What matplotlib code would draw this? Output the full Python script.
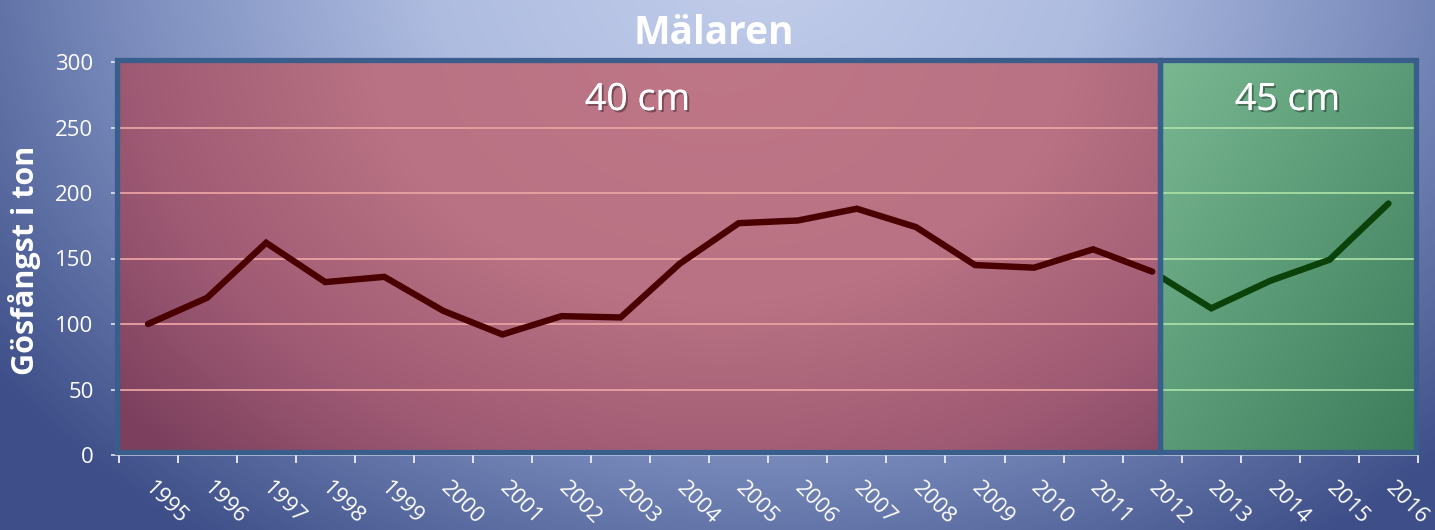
import numpy as np
import matplotlib
matplotlib.use('Agg')
import matplotlib.pyplot as plt
from matplotlib.patches import Rectangle
import matplotlib.patheffects as pe
from matplotlib.colors import LinearSegmentedColormap

# ---------------- data ----------------
years = [str(y) for y in range(1995, 2017)]
catch_tons = [100, 120, 162, 132, 136, 110, 92, 106, 105, 146, 177,
              179, 188, 174, 145, 143, 157, 140, 112, 133, 149, 192]
split_year = "2012"          # last year with 40 cm / first point of 45 cm line
period_labels = ["40 cm", "45 cm"]
title = "Mälaren"
ylabel = "Gösfångst i ton"
yticks = [0, 50, 100, 150, 200, 250, 300]

# ---------------- figure ----------------
W, H, DPI = 1435, 530, 100
fig = plt.figure(figsize=(W / DPI, H / DPI), dpi=DPI)

# background gradient
bg = fig.add_axes([0, 0, 1, 1])
bg.set_axis_off()
gx, gy = np.meshgrid(np.linspace(0, W, 360), np.linspace(0, H, 140))
d = np.sqrt(((gx - 760) / 1.25) ** 2 + ((gy + 40) / 0.95) ** 2)
t = np.clip(d / 760, 0, 1)
bg_cmap = LinearSegmentedColormap.from_list(
    "bg", [(0, "#c2cdea"), (0.35, "#aebce0"), (0.65, "#7f90c0"), (1, "#3d4e88")])
bg.imshow(t, cmap=bg_cmap, extent=[0, W, H, 0], aspect='auto', interpolation='bicubic', vmin=0, vmax=1)
bg.set_xlim(0, W)
bg.set_ylim(H, 0)

# main axes
L, R, T, B = 118.5, 1418, 62, 455
ax = fig.add_axes([L / W, (H - B) / H, (R - L) / W, (B - T) / H])
ax.patch.set_alpha(0)
n = len(years)
x = np.arange(n)
ax.set_xlim(-0.5, n - 0.5)
ax.set_ylim(0, 300)

pxu = (R - L) / n          # pixels per category
pyu = (B - T) / 300.0      # pixels per ton

def to_px(xd, yd):
    return L + (xd + 0.5) * pxu, B - yd * pyu

split_idx = years.index(split_year)
xb = -0.5 + (1159.5 - L) / pxu        # boundary between regions
x_left = -0.5 - 2.0 / pxu
x_right = -0.5 + (1415.5 - L) / pxu
y_bot = (B - 452) / pyu
y_top = (B - 59.5) / pyu

def grad_img(x0, x1, y0, y1, func, cmap, z):
    xs = np.linspace(x0, x1, 300)
    ys = np.linspace(y0, y1, 120)
    XX, YY = np.meshgrid(xs, ys)
    PX, PY = to_px(XX, YY)
    arr = func(PX, PY)
    ax.imshow(arr, cmap=cmap, extent=[x0, x1, y0, y1], origin='lower',
              aspect='auto', interpolation='bicubic', vmin=0, vmax=1, zorder=z)

red_cmap = LinearSegmentedColormap.from_list(
    "red", [(0, "#bf7787"), (0.45, "#b87283"), (0.75, "#a05b74"), (1, "#7c405e")])
grad_img(x_left, xb, y_bot, y_top,
         lambda px, py: np.clip(np.sqrt(((px - 720) / 1.0) ** 2 + ((py - 40) / 0.75) ** 2) / 780, 0, 1),
         red_cmap, 1)
green_cmap = LinearSegmentedColormap.from_list("green", ["#79b891", "#5a9a76", "#3c7c5b"])
grad_img(xb, x_right, y_bot, y_top,
         lambda px, py: np.clip(((px - 1160) / 258 + (py - 60) / 395) / 2, 0, 1),
         green_cmap, 1)

# gridlines
grid_y = yticks[1:]
ax.hlines(grid_y, -0.5, xb, colors="#e9a2a2", lw=1.3, zorder=2)
ax.hlines(grid_y, xb, x_right, colors="#a6dea6", lw=1.3, zorder=2)
ax.vlines(-0.5, 0, 300, colors="#e9a2a2", lw=1.3, zorder=2)

# region borders
border = "#3a5e8c"
red_rect = Rectangle((x_left, y_bot), xb - x_left, y_top - y_bot, facecolor='none',
                     edgecolor=border, lw=3.8, zorder=6)
green_rect = Rectangle((xb, y_bot), x_right - xb, y_top - y_bot, facecolor='none',
                       edgecolor=border, lw=3.8, zorder=6)
ax.add_patch(red_rect)
ax.add_patch(green_rect)
for p in (red_rect, green_rect):
    p.set_clip_on(False)

# lines
l1, = ax.plot(x[:split_idx + 1], catch_tons[:split_idx + 1], color="#4a0000", lw=4.6,
              solid_joinstyle='miter', solid_capstyle='round', zorder=5)
l1.set_clip_path(red_rect)
l2, = ax.plot(x[split_idx:], catch_tons[split_idx:], color="#0a420a", lw=4.6,
              solid_joinstyle='miter', solid_capstyle='round', zorder=5)
l2.set_clip_path(green_rect)

# axes styling
for s in ("top", "right", "left"):
    ax.spines[s].set_visible(False)
ax.spines["bottom"].set_color("#c9d2ea")
ax.spines["bottom"].set_linewidth(1.2)
ax.spines["bottom"].set_zorder(0)

ax.set_xticks(np.arange(-0.5, n, 1.0))
ax.set_xticklabels([])
ax.set_xticks(x, minor=True)
ax.set_xticklabels(years, minor=True)
ax.tick_params(axis='x', which='major', length=5.5, width=1.4, color="#e2e7f4", direction='out')
ax.tick_params(axis='x', which='minor', length=0, pad=22, labelsize=16, labelcolor='white')
for lab in ax.get_xticklabels(minor=True):
    lab.set_rotation(-45)
    lab.set_ha('left')
    lab.set_va('center')
    lab.set_rotation_mode('anchor')
    lab.set_fontfamily('Open Sans')

ax.set_yticks(yticks)
ax.set_yticklabels([str(v) for v in yticks])
ax.tick_params(axis='y', length=6, width=1.2, color="#e2e7f4", pad=12, labelsize=16,
               labelcolor='white')
for lab in ax.get_yticklabels():
    lab.set_fontfamily('Open Sans')

# texts
shadow = [pe.withSimplePatchShadow(offset=(1.5, -1.5), shadow_rgbFace='black', alpha=0.35), pe.Normal()]
fig.text(714 / W, 1 - 43.5 / H, title, ha='center', va='baseline', fontsize=28,
         fontweight='bold', color='white', family='Open Sans')
fig.text(25 / W, 1 - 260 / H, ylabel, ha='center', va='center', rotation=90, fontsize=22,
         fontweight='bold', color='white', family='Open Sans')
fig.text(637.5 / W, 1 - 110 / H, period_labels[0], ha='center', va='baseline', fontsize=27,
         color='white', family='Open Sans', path_effects=shadow)
fig.text(1287.5 / W, 1 - 110 / H, period_labels[1], ha='center', va='baseline', fontsize=27,
         color='white', family='Open Sans', path_effects=shadow)

fig.savefig("out.png", dpi=DPI)
